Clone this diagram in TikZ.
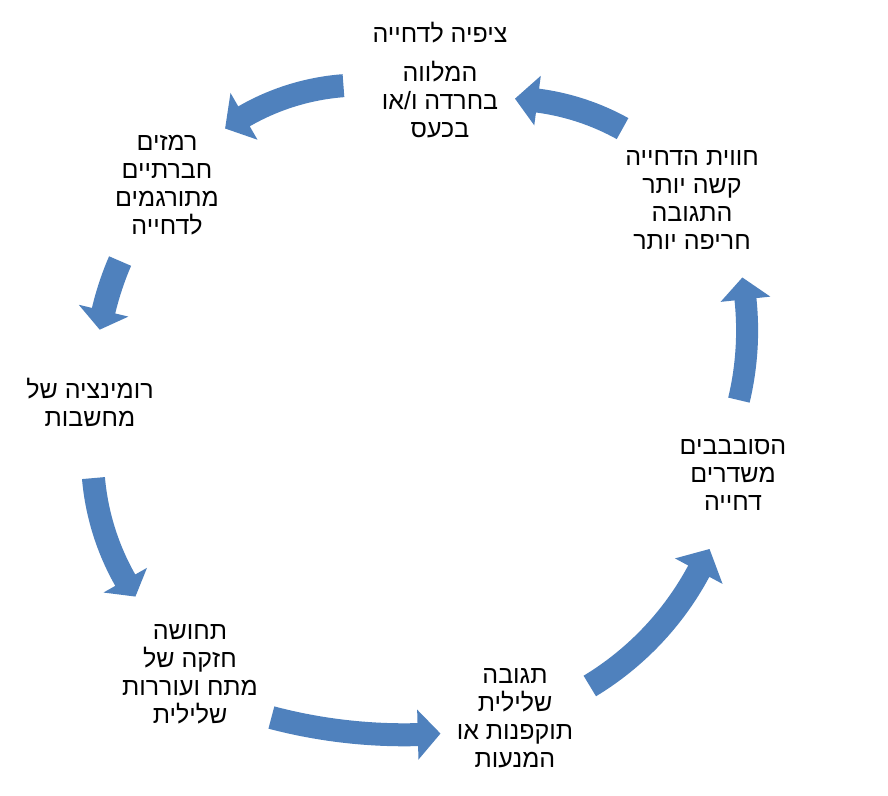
\documentclass[tikz,border=0pt]{standalone}
\usepackage{fontspec}
\usetikzlibrary{calc}
\setmainfont{Liberation Sans}
\newfontfamily\hebfont[Script=Hebrew]{Liberation Sans}
\TeXXeTstate=1
\definecolor{arrowblue}{RGB}{79,129,189}
\newcommand\heb[1]{{\hebfont\beginR #1\endR}}
% #1 cx, #2 cy, #3 R, #4 tail angle, #5 head-base angle, #6 tip angle, #7 half shaft, #8 half head
\newcommand\blockarc[8]{%
  \fill[blockarrow] ($(#1,#2)+(#4:{#3+#7})$) arc[start angle=#4, end angle=#5, radius={#3+#7}]
    -- ($(#1,#2)+(#5:{#3+#8})$) -- ($(#1,#2)+(#6:#3)$) -- ($(#1,#2)+(#5:{#3-#8})$)
    -- ($(#1,#2)+(#5:{#3-#7})$) arc[start angle=#5, end angle=#4, radius={#3-#7}] -- cycle;}
\begin{document}
\begin{tikzpicture}[x=1pt,y=-1pt,
  lbl/.style={align=center,font=\hebfont\fontsize{25}{28}\selectfont,inner sep=0pt},
  blockarrow/.style={fill=arrowblue,draw=none}]
\useasboundingbox[fill=white] (0,0) rectangle (888,795);
% labels
\node[lbl] (t0) at (440,33) {\heb{ציפיה לדחייה}};
\node[lbl] (t1) at (440,100) {\heb{המלווה}\\\heb{בחרדה ו/או}\\\heb{בכעס}};
\node[lbl] (t2) at (167,185) {\heb{רמזים}\\\heb{חברתיים}\\\heb{מתורגמים}\\\heb{לדחייה}};
\node[lbl] (t3) at (90,402) {\heb{רומינציה של}\\\heb{מחשבות}};
\node[lbl] (t4) at (190,674) {\heb{תחושה}\\\heb{חזקה של}\\\heb{מתח ועוררות}\\\heb{שלילית}};
\node[lbl] (t5) at (515,718) {\heb{תגובה}\\\heb{שלילית}\\\heb{תוקפנות או}\\\heb{המנעות}};
\node[lbl] (t6) at (733,475) {\heb{הסובבבים}\\\heb{משדרים}\\\heb{דחייה}};
\node[lbl] (t7) at (692,200) {\heb{חווית הדחייה}\\\heb{קשה יותר}\\\heb{התגובה}\\\heb{חריפה יותר}};
% curved block arrows (counter-clockwise cycle)
\blockarc{361}{319}{234}{265.7}{240}{234.5}{11.5}{27}
\blockarc{395.4}{380.2}{300}{203.4}{193.4}{189.7}{12}{25.5}
\blockarc{343.5}{456.2}{251}{175}{150.4}{146}{11.5}{25}
\blockarc{404.2}{214.8}{520}{104.8}{88.5}{86}{11.5}{25}
\blockarc{434.4}{429.4}{300}{58.8}{28.2}{23.5}{12}{27}
\blockarc{447.1}{330.6}{300}{13.4}{-6}{-10.2}{11}{25}
\blockarc{506.2}{338.5}{240}{299}{277.5}{272.1}{12}{25}
\end{tikzpicture}
\end{document}
